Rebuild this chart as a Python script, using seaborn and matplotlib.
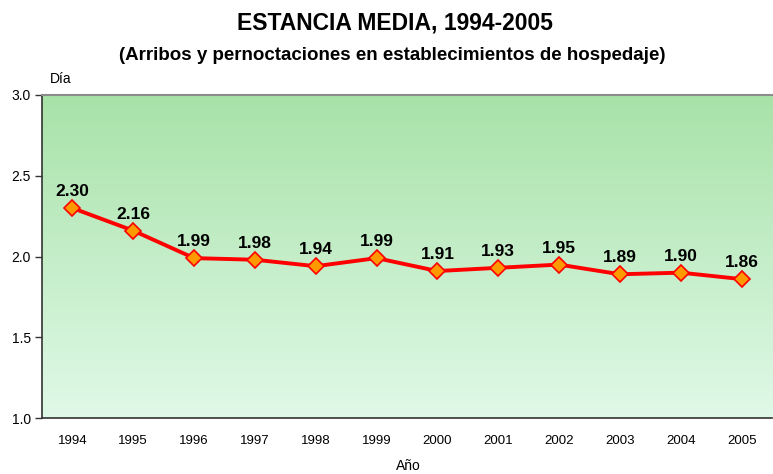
import numpy as np
import pandas as pd
import matplotlib
matplotlib.use("Agg")
import matplotlib.pyplot as plt
import seaborn as sns
from matplotlib.colors import LinearSegmentedColormap

years = ["1994", "1995", "1996", "1997", "1998", "1999", "2000", "2001", "2002", "2003", "2004", "2005"]
values = [2.30, 2.16, 1.99, 1.98, 1.94, 1.99, 1.91, 1.93, 1.95, 1.89, 1.90, 1.86]
yticks = [1.0, 1.5, 2.0, 2.5, 3.0]

sns.set_style("white")
plt.rcParams['font.family'] = ['Liberation Sans', 'DejaVu Sans']
plt.rcParams['text.color'] = 'black'
plt.rcParams['xtick.color'] = 'black'
plt.rcParams['ytick.color'] = 'black'

fig = plt.figure(figsize=(7.73, 4.74), dpi=100)
ax = fig.add_axes([0.0543, 0.1181, 0.9445, 0.6815])

df = pd.DataFrame({"idx": np.arange(len(years)), "val": values})

# gradient background
cmap = LinearSegmentedColormap.from_list("g", ["#e0f9e8", "#a8e2a8"])
grad = np.linspace(0, 1, 256).reshape(-1, 1)
ax.imshow(grad, extent=[-0.5, 11.5, 1.0, 3.0], origin="lower", aspect="auto", cmap=cmap, zorder=0)

sns.lineplot(data=df, x="idx", y="val", ax=ax, color="#ff0000", linewidth=2.8,
             marker="D", markersize=8, markerfacecolor="#ff9900", markeredgecolor="#ff0000",
             markeredgewidth=1.2, zorder=3)

for i, v in enumerate(values):
    ax.annotate(f"{v:.2f}", (i, v), xytext=(0, 6.5), textcoords="offset points",
                ha="center", va="bottom", fontsize=12.5, fontweight="bold", color="black")

ax.set_xlim(-0.5, 11.5)
ax.set_ylim(1.0, 3.0)
ax.set_yticks(yticks)
ax.set_yticklabels([f"{t:.1f}" for t in yticks], fontsize=10)
ax.set_xticks(np.arange(len(years)))
ax.set_xticklabels(years, fontsize=9.5)
ax.set_xticks(np.arange(-0.5, 11.6, 1.0), minor=True)
ax.tick_params(axis="x", which="major", length=0, pad=12)
ax.tick_params(axis="x", which="minor", length=5, width=1, color="#333333", direction="out")
ax.tick_params(axis="y", which="major", length=5, width=1, color="#333333", direction="out", left=True, pad=3)
ax.set_xlabel("")
ax.set_ylabel("")

ax.spines["right"].set_visible(False)
ax.spines["top"].set_color("#8c8c8c")
ax.spines["top"].set_linewidth(1.5)
for s in ["left", "bottom"]:
    ax.spines[s].set_color("#333333")
    ax.spines[s].set_linewidth(1.2)

fig.text(0.511, 0.952, "ESTANCIA MEDIA, 1994-2005", ha="center", va="center",
         fontsize=16.5, fontweight="bold")
fig.text(0.508, 0.882, "(Arribos y pernoctaciones en establecimientos de hospedaje)", ha="center", va="center",
         fontsize=13.5, fontweight="bold")
fig.text(0.078, 0.833, "Día", ha="center", va="center", fontsize=10)
fig.text(0.528, 0.016, "Año", ha="center", va="center", fontsize=10)

fig.savefig("out.png", dpi=100)
